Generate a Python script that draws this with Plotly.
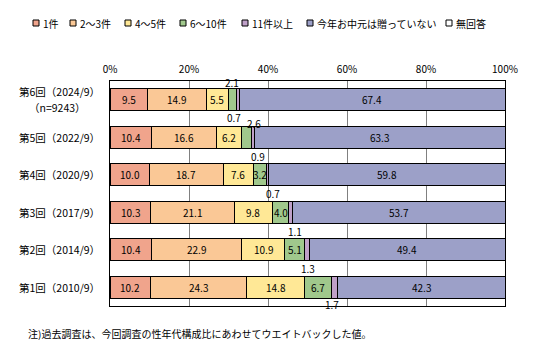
import plotly.graph_objects as go

# ---- data ----
rounds = ["第6回（2024/9）", "第5回（2022/9）", "第4回（2020/9）", "第3回（2017/9）", "第2回（2014/9）", "第1回（2010/9）"]
round_sub = ["（n=9243）", "", "", "", "", ""]
series_names = ["1件", "2～3件", "4～5件", "6～10件", "11件以上", "今年お中元は贈っていない", "無回答"]
v_1 = [9.5, 10.4, 10.0, 10.3, 10.4, 10.2]
v_2_3 = [14.9, 16.6, 18.7, 21.1, 22.9, 24.3]
v_4_5 = [5.5, 6.2, 7.6, 9.8, 10.9, 14.8]
v_6_10 = [2.1, 2.6, 3.2, 4.0, 5.1, 6.7]
v_11 = [0.7, 0.9, 0.7, 1.1, 1.3, 1.7]
v_none = [67.4, 63.3, 59.8, 53.7, 49.4, 42.3]
v_na = [0, 0, 0, 0, 0, 0]
x_ticks = [0, 20, 40, 60, 80, 100]
x_tick_labels = ["0%", "20%", "40%", "60%", "80%", "100%"]

series = [v_1, v_2_3, v_4_5, v_6_10, v_11, v_none, v_na]
colors = ["#F0A48C", "#FAC896", "#FFE896", "#A0C88C", "#BFA0C8", "#9CA0C8", "#FFFFFF"]
FONT = "Noto Sans CJK JP"

# label placement tweaks for small segments (layout only): (xshift, yshift)
above_shift = [(0, 17), (8, 14), (0, 0), (0, 0), (0, 0), (0, 0)]   # 6～10件 labels
below_shift = [(-4, -18), (5, -19), (6, -19), (4, -19), (1, -19), (-3, -17)]  # 11件以上 labels

fig = go.Figure()
for name, vals, col in zip(series_names, series, colors):
    fig.add_trace(go.Bar(
        y=rounds, x=vals, name=name, orientation="h",
        marker=dict(color=col, line=dict(color="#000000", width=1)),
        showlegend=False, hoverinfo="x+name",
    ))

annotations = []
for i, r in enumerate(rounds):
    start = 0.0
    for s_idx, vals in enumerate(series):
        v = vals[i]
        if v > 0:
            center = start + v / 2
            xs, ys = 0, 0
            if s_idx == 3 and v < 3:
                xs, ys = above_shift[i]
            elif s_idx == 4:
                xs, ys = below_shift[i]
            annotations.append(dict(
                x=center, y=r, xref="x", yref="y", text=f"{v:.1f}",
                showarrow=False, xshift=xs, yshift=ys,
                font=dict(family=FONT, size=10, color="#000000"),
            ))
        start += v

# page is offset by 8px body margin
OFF = 8
W, H = 537 - OFF, 357 - OFF
ml, mr, mt, mb = 110 - OFF, 537 - 505, 81 - OFF, 357 - 306
pw, ph = W - ml - mr, H - mt - mb

def px_x(px):
    return (px - OFF - ml) / pw

def px_y(py):
    return 1 - (py - OFF - mt) / ph

# y-axis labels
LBL = 10.5
for r, sub in zip(rounds, round_sub):
    if sub:
        annotations.append(dict(
            x=0, y=r, xref="paper", yref="y", text=r, showarrow=False,
            xanchor="right", yanchor="middle", xshift=-8, yshift=8,
            font=dict(family=FONT, size=LBL, color="#000000"),
        ))
        annotations.append(dict(
            x=0, y=r, xref="paper", yref="y", text=sub, showarrow=False,
            xanchor="right", yanchor="middle", xshift=-22, yshift=-8,
            font=dict(family=FONT, size=LBL, color="#000000"),
        ))
    else:
        annotations.append(dict(
            x=0, y=r, xref="paper", yref="y", text=r, showarrow=False,
            xanchor="right", yanchor="middle", xshift=-8,
            font=dict(family=FONT, size=LBL, color="#000000"),
        ))

# custom compact single-row legend
shapes = []
leg_x = [33, 70, 125, 180, 242, 307, 446]
for name, col, lx in zip(series_names, colors, leg_x):
    shapes.append(dict(
        type="rect", xref="paper", yref="paper",
        x0=px_x(lx), x1=px_x(lx + 6), y0=px_y(26), y1=px_y(20),
        fillcolor=col, line=dict(color="#000000", width=1),
    ))
    annotations.append(dict(
        x=px_x(lx + 8), y=px_y(23), xref="paper", yref="paper",
        text=name, showarrow=False, xanchor="left", yanchor="middle",
        font=dict(family=FONT, size=10, color="#000000"),
    ))

# footnote
annotations.append(dict(
    x=px_x(26), y=px_y(333), xref="paper", yref="paper",
    text="注)過去調査は、今回調査の性年代構成比にあわせてウエイトバックした値。",
    showarrow=False, xanchor="left", yanchor="middle",
    font=dict(family=FONT, size=10, color="#000000"),
))

fig.update_layout(
    template="none",
    width=W, height=H,
    margin=dict(l=ml, r=mr, t=mt, b=mb, pad=0, autoexpand=False),
    barmode="stack", bargap=0.41,
    plot_bgcolor="#FFFFFF", paper_bgcolor="#FFFFFF",
    font=dict(family=FONT, size=10, color="#000000"),
    annotations=annotations, shapes=shapes,
    xaxis=dict(
        range=[0, 100], side="top", tickvals=x_ticks, ticktext=x_tick_labels,
        showgrid=True, gridcolor="#808080", gridwidth=1,
        showline=True, linecolor="#000000", linewidth=1, mirror=True,
        zeroline=False, ticks="", tickfont=dict(size=10),
        ticklabelstandoff=3, automargin=False,
    ),
    yaxis=dict(
        categoryorder="array", categoryarray=rounds,
        range=[len(rounds) - 0.5, -0.5], autorange=False,
        showticklabels=False, showgrid=False,
        showline=True, linecolor="#000000", linewidth=1, mirror=True,
        ticks="", automargin=False,
    ),
)

fig.write_html("out.html")
